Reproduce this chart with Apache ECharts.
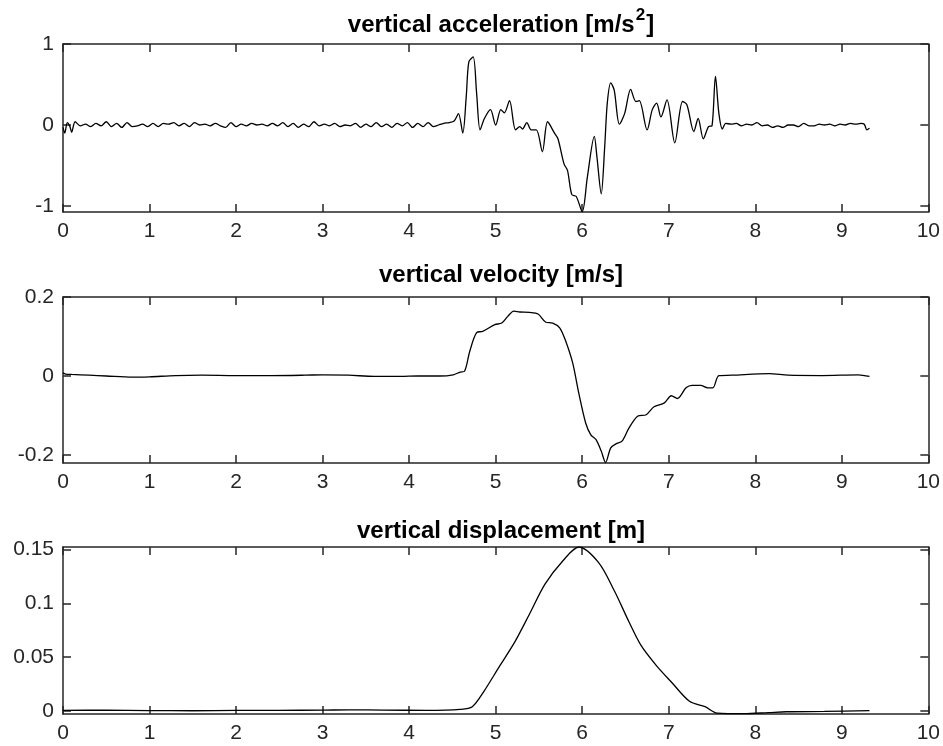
<!DOCTYPE html>
<html>
<head>
<meta charset="utf-8">
<script src="https://cdn.jsdelivr.net/npm/echarts@6/dist/echarts.min.js"></script>
<style>
html,body{margin:0;padding:0;background:#fff;}
#chart{width:943px;height:746px;}
</style>
</head>
<body>
<div id="chart"></div>
<script>
// ---- data ----
const xTicks = [0,1,2,3,4,5,6,7,8,9,10];
const accTicks = [-1, 0, 1];
const velTicks = [-0.2, 0, 0.2];
const dispTicks = [0, 0.05, 0.1, 0.15];

const accT = [0.00,0.02,0.05,0.08,0.10,0.14,0.20,0.26,0.32,0.38,0.44,0.50,0.56,0.62,0.68,0.74,0.80,0.86,0.92,0.98,
  1.04,1.10,1.16,1.22,1.28,1.34,1.40,1.46,1.52,1.58,1.64,1.70,1.76,1.82,1.88,1.94,2.00,2.06,2.12,2.18,
  2.24,2.30,2.36,2.42,2.48,2.54,2.60,2.66,2.72,2.78,2.84,2.90,2.96,3.02,3.08,3.14,3.20,3.26,3.32,3.38,
  3.44,3.50,3.56,3.62,3.68,3.74,3.80,3.86,3.92,3.98,4.04,4.10,4.16,4.22,4.28,4.34,4.40,4.46,4.52,4.57,
  4.62,4.66,4.69,4.74,4.78,4.82,4.87,4.94,5.00,5.06,5.10,5.16,5.23,5.28,5.31,5.36,5.41,5.47,5.54,5.60,
  5.68,5.72,5.79,5.83,5.88,5.93,6.00,6.06,6.14,6.17,6.22,6.26,6.29,6.33,6.37,6.43,6.49,6.56,6.62,6.66,
  6.75,6.81,6.86,6.91,6.98,7.07,7.16,7.21,7.29,7.34,7.40,7.46,7.50,7.54,7.58,7.62,7.66,7.72,7.78,7.84,
  7.90,7.96,8.02,8.08,8.14,8.20,8.26,8.32,8.38,8.44,8.50,8.56,8.62,8.68,8.74,8.80,8.86,8.92,8.98,9.04,
  9.10,9.16,9.22,9.26,9.29,9.32];
const accV = [-0.03,-0.10,0.03,-0.02,-0.09,0.04,-0.01,0.01,-0.02,0.02,-0.01,0.04,-0.02,0.02,-0.03,0.03,-0.02,-0.01,0.01,-0.02,
  0.02,-0.02,0.02,0.01,0.03,-0.01,0.02,-0.02,0.03,0.00,0.01,-0.01,0.02,-0.01,-0.03,0.03,-0.02,0.01,-0.01,0.02,
  0.00,0.01,-0.01,0.02,-0.01,0.03,-0.02,0.02,-0.03,0.01,-0.02,0.04,-0.01,0.01,-0.01,0.02,-0.02,0.00,-0.01,0.02,
  -0.03,0.01,-0.02,0.03,-0.02,0.01,-0.03,0.02,-0.01,0.03,-0.03,0.02,-0.02,0.03,-0.02,0.00,0.02,0.03,0.05,0.14,
  -0.10,0.35,0.78,0.84,0.39,-0.06,0.08,0.19,0.00,0.19,0.15,0.30,-0.06,-0.02,-0.05,0.03,-0.06,-0.06,-0.33,0.04,
  -0.10,-0.17,-0.48,-0.56,-0.86,-0.88,-1.07,-0.64,-0.14,-0.39,-0.85,-0.27,0.27,0.52,0.43,0.01,0.14,0.44,0.29,0.30,
  -0.06,0.19,0.27,0.10,0.31,-0.22,0.29,0.25,-0.08,0.08,-0.17,-0.02,-0.01,0.60,0.14,-0.05,0.02,0.01,0.02,-0.01,
  0.01,0.00,0.03,-0.01,0.00,-0.03,-0.01,-0.03,0.00,0.00,-0.02,0.02,-0.01,-0.01,0.01,0.00,0.01,-0.01,0.01,0.00,
  0.02,0.01,0.02,0.01,-0.06,-0.04];

const velT = [0.00,0.03,0.10,0.30,0.50,0.80,1.00,1.30,1.60,2.00,2.40,2.80,3.00,3.30,3.60,3.90,4.10,4.35,4.51,4.59,
  4.64,4.70,4.78,4.85,4.99,5.07,5.14,5.21,5.28,5.39,5.49,5.58,5.66,5.74,5.81,5.89,5.96,6.04,6.10,6.16,
  6.22,6.27,6.33,6.39,6.46,6.54,6.64,6.74,6.83,6.95,7.03,7.10,7.20,7.27,7.37,7.45,7.51,7.58,7.73,8.16,
  8.38,8.77,9.19,9.32];
const velV = [0.008,0.005,0.004,0.002,0.000,-0.003,-0.002,0.001,0.002,0.001,0.001,0.002,0.003,0.002,-0.001,-0.001,0.000,0.000,0.003,0.010,
  0.012,0.062,0.110,0.113,0.130,0.134,0.151,0.164,0.162,0.161,0.157,0.136,0.134,0.122,0.088,0.033,-0.043,-0.119,-0.149,-0.161,
  -0.190,-0.219,-0.182,-0.172,-0.165,-0.132,-0.102,-0.098,-0.078,-0.068,-0.050,-0.057,-0.030,-0.024,-0.024,-0.030,-0.030,0.001,0.002,0.006,
  0.002,0.001,0.003,-0.001];

const dispT = [0.00,0.50,1.00,1.50,2.00,2.50,3.00,3.30,3.70,4.20,4.59,4.73,4.87,5.04,5.22,5.39,5.57,5.78,5.96,6.19,
  6.37,6.54,6.68,6.86,7.03,7.24,7.42,7.56,7.87,8.15,8.36,8.80,9.32];
const dispV = [0.0005,0.0008,0.0004,0.0002,0.0005,0.0006,0.0008,0.0011,0.0008,0.0006,0.0015,0.004,0.019,0.041,0.064,0.090,0.118,0.140,0.1525,0.138,
  0.112,0.083,0.061,0.042,0.027,0.009,0.004,-0.002,-0.0025,-0.0015,-0.0007,-0.0004,0.0003];

const zip = (t, v) => t.map((x, i) => [x, v[i]]);

// ---- layout ----
const FONT = '"Liberation Sans", Arial, Helvetica, sans-serif';
const AX = '#262626';
const grids = [
  {left: 63, top: 44, width: 866, height: 168},
  {left: 63, top: 297, width: 866, height: 166},
  {left: 63, top: 547, width: 866, height: 167}
];
const yRanges = [
  {min: -1.074, max: 1, ticks: accTicks},
  {min: -0.2203, max: 0.2, ticks: velTicks},
  {min: -0.0028, max: 0.1525, ticks: dispTicks}
];

const xAxes = [], yAxes = [];
grids.forEach((g, i) => {
  const base = {
    type: 'value', gridIndex: i, min: 0, max: 10, interval: 1,
    axisLine: {show: true, onZero: false, lineStyle: {color: AX, width: 1.5}},
    axisTick: {show: true, inside: true, length: 8, lineStyle: {color: AX, width: 1.5}},
    splitLine: {show: false}
  };
  xAxes.push(Object.assign({}, base, {
    position: 'bottom',
    axisLabel: {show: true, margin: 9, color: AX, fontSize: 21, fontFamily: FONT,
      customValues: xTicks}
  }));
  xAxes.push(Object.assign({}, base, {
    position: 'top', axisLabel: {show: false}
  }));
  const r = yRanges[i];
  const ybase = {
    type: 'value', gridIndex: i, min: r.min, max: r.max,
    axisLine: {show: true, onZero: false, lineStyle: {color: AX, width: 1.5}},
    axisTick: {show: true, inside: true, length: 8, customValues: r.ticks, lineStyle: {color: AX, width: 1.5}},
    splitLine: {show: false}
  };
  yAxes.push(Object.assign({}, ybase, {
    position: 'left',
    axisLabel: {show: true, margin: 9, color: AX, fontSize: 21, fontFamily: FONT,
      customValues: r.ticks, formatter: v => String(+v.toFixed(4))}
  }));
  yAxes.push(Object.assign({}, ybase, {
    position: 'right', axisLabel: {show: false}
  }));
});

const lineSeries = (idx, data) => ({
  type: 'line', xAxisIndex: idx * 2, yAxisIndex: idx * 2, data: data,
  showSymbol: false, smooth: 0.3, lineStyle: {color: '#000', width: 1.3},
  itemStyle: {color: '#000'}, animation: false, silent: true
});

const titleStyle = {fontSize: 24, fontWeight: 'bold', color: '#000', fontFamily: FONT};
const option = {
  animation: false,
  title: [
    {text: '{a|vertical acceleration [m/s}{s|2}{a|]}', left: 496, top: 2, textAlign: 'center',
      textStyle: {rich: {
        a: {fontSize: 24, fontWeight: 'bold', color: '#000', fontFamily: FONT, lineHeight: 30, verticalAlign: 'bottom'},
        s: {fontSize: 17, fontWeight: 'bold', color: '#000', fontFamily: FONT, lineHeight: 30, verticalAlign: 'top', padding: [0, 1, 0, 1]}
      }}},
    {text: 'vertical velocity [m/s]', left: 496, top: 258, textAlign: 'center', textStyle: titleStyle},
    {text: 'vertical displacement [m]', left: 496, top: 514, textAlign: 'center', textStyle: titleStyle}
  ],
  grid: grids,
  xAxis: xAxes,
  yAxis: yAxes,
  series: [
    lineSeries(0, zip(accT, accV)),
    lineSeries(1, zip(velT, velV)),
    lineSeries(2, zip(dispT, dispV))
  ]
};

const chart = echarts.init(document.getElementById('chart'), null, {renderer: 'canvas'});
chart.setOption(option);
</script>
</body>
</html>
